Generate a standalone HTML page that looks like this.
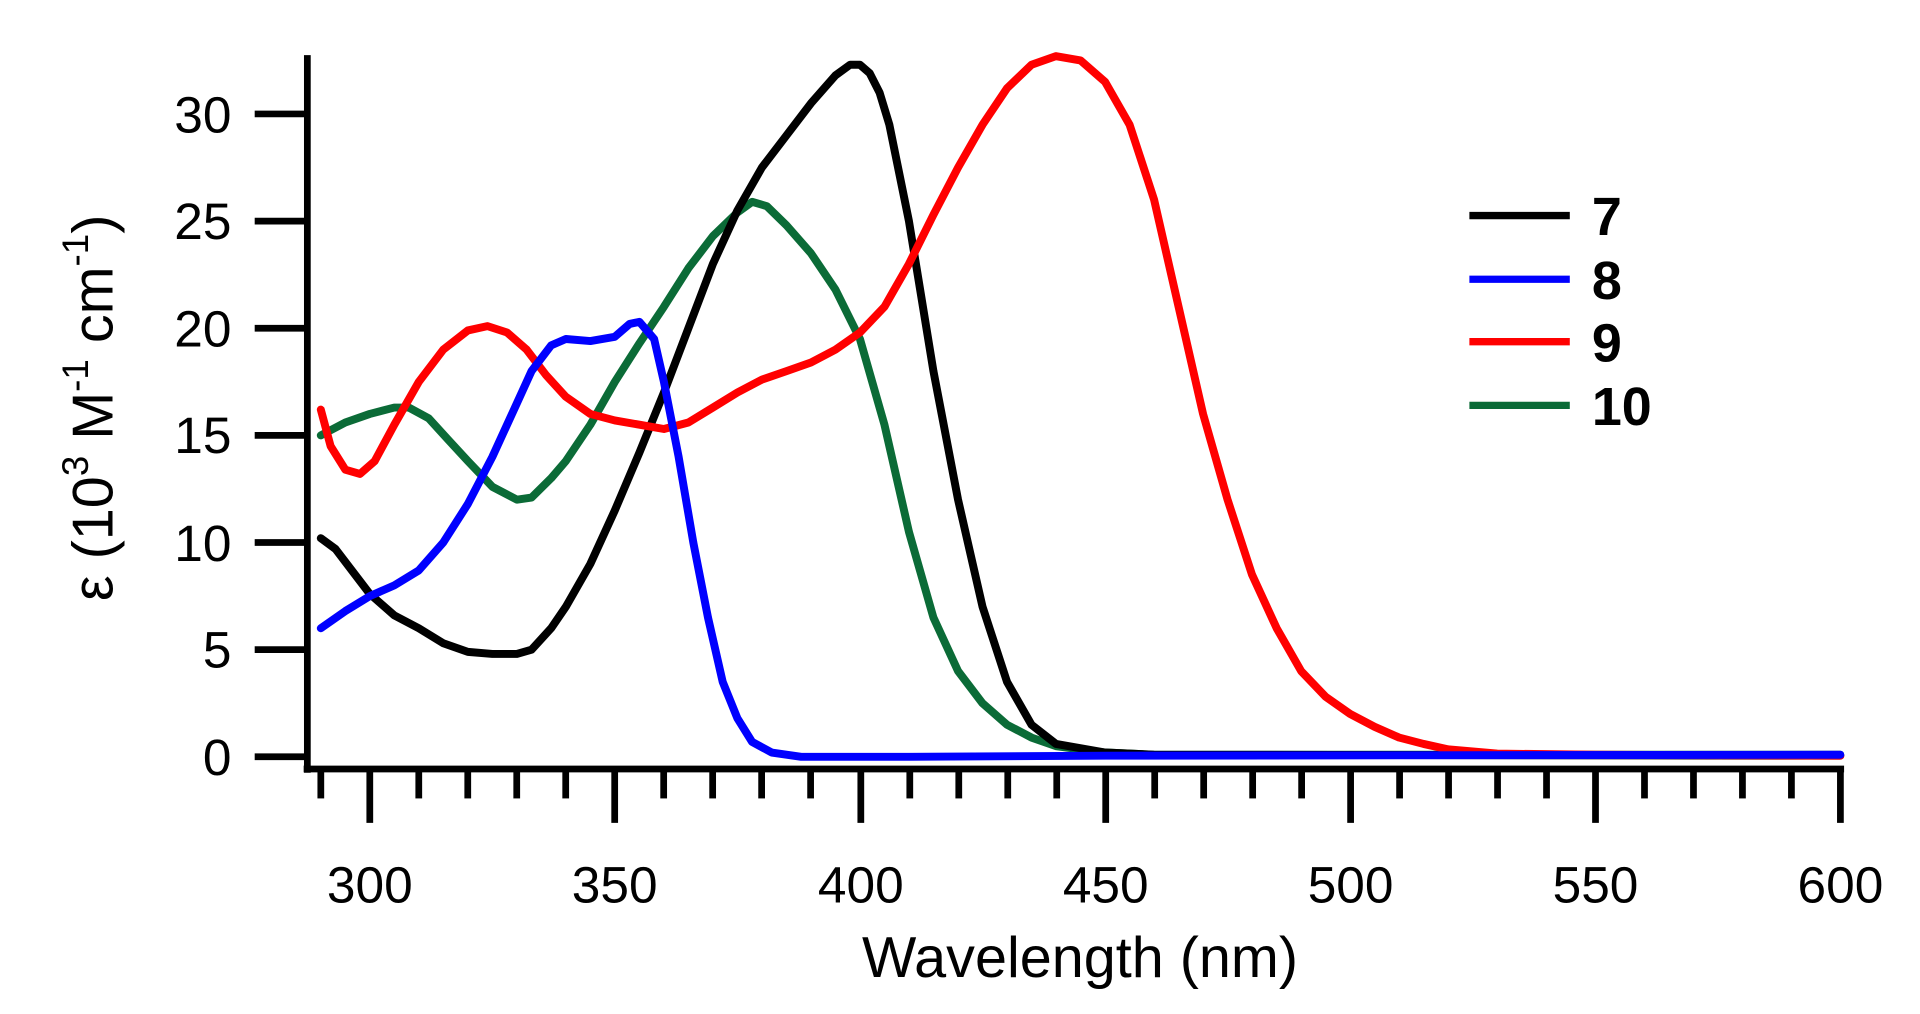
<!DOCTYPE html>
<html><head><meta charset="utf-8"><style>
html,body{margin:0;padding:0;background:#fff;}
svg{display:block;}
text{font-family:"Liberation Sans",Arial,sans-serif;fill:#000;}
</style></head><body>
<svg width="1920" height="1014" viewBox="0 0 1568 828" xmlns="http://www.w3.org/2000/svg">
<g stroke="#000" stroke-width="5.5" fill="none">
<line x1="251" y1="45" x2="251" y2="631"/>
<line x1="248" y1="628" x2="1506" y2="628"/>
<line x1="208" y1="618" x2="251" y2="618"/>
<line x1="208" y1="530.5" x2="251" y2="530.5"/>
<line x1="208" y1="443" x2="251" y2="443"/>
<line x1="208" y1="355.5" x2="251" y2="355.5"/>
<line x1="208" y1="268" x2="251" y2="268"/>
<line x1="208" y1="180.5" x2="251" y2="180.5"/>
<line x1="208" y1="93" x2="251" y2="93"/>
</g>
<g stroke="#000" stroke-width="5.5">
<line x1="262" y1="628" x2="262" y2="652"/><line x1="302" y1="628" x2="302" y2="672"/>
<line x1="342" y1="628" x2="342" y2="652"/><line x1="382" y1="628" x2="382" y2="652"/>
<line x1="422" y1="628" x2="422" y2="652"/><line x1="462" y1="628" x2="462" y2="652"/>
<line x1="502" y1="628" x2="502" y2="672"/><line x1="542" y1="628" x2="542" y2="652"/>
<line x1="582" y1="628" x2="582" y2="652"/><line x1="622" y1="628" x2="622" y2="652"/>
<line x1="662" y1="628" x2="662" y2="652"/><line x1="703" y1="628" x2="703" y2="672"/>
<line x1="743" y1="628" x2="743" y2="652"/><line x1="783" y1="628" x2="783" y2="652"/>
<line x1="823" y1="628" x2="823" y2="652"/><line x1="863" y1="628" x2="863" y2="652"/>
<line x1="903" y1="628" x2="903" y2="672"/><line x1="943" y1="628" x2="943" y2="652"/>
<line x1="983" y1="628" x2="983" y2="652"/><line x1="1023" y1="628" x2="1023" y2="652"/>
<line x1="1063" y1="628" x2="1063" y2="652"/><line x1="1103" y1="628" x2="1103" y2="672"/>
<line x1="1143" y1="628" x2="1143" y2="652"/><line x1="1183" y1="628" x2="1183" y2="652"/>
<line x1="1223" y1="628" x2="1223" y2="652"/><line x1="1263" y1="628" x2="1263" y2="652"/>
<line x1="1303" y1="628" x2="1303" y2="672"/><line x1="1343" y1="628" x2="1343" y2="652"/>
<line x1="1383" y1="628" x2="1383" y2="652"/><line x1="1423" y1="628" x2="1423" y2="652"/>
<line x1="1463" y1="628" x2="1463" y2="652"/><line x1="1503" y1="628" x2="1503" y2="672"/>
</g>
<g font-size="42" text-anchor="end">
<text x="189" y="633">0</text><text x="189" y="545">5</text><text x="189" y="458">10</text>
<text x="189" y="370">15</text><text x="189" y="283">20</text><text x="189" y="195">25</text>
<text x="189" y="108">30</text>
</g>
<g font-size="42" text-anchor="middle">
<text x="302" y="737">300</text><text x="502" y="737">350</text><text x="703" y="737">400</text>
<text x="903" y="737">450</text><text x="1103" y="737">500</text><text x="1303" y="737">550</text>
<text x="1503" y="737">600</text>
<text x="882" y="798" font-size="47">Wavelength (nm)</text>
</g>
<text transform="translate(92,333) rotate(-90)" font-size="47" text-anchor="middle">ε (10<tspan font-size="30" dy="-20">3</tspan><tspan dy="20"> M</tspan><tspan font-size="30" dy="-20">-1</tspan><tspan dy="20"> cm</tspan><tspan font-size="30" dy="-20">-1</tspan><tspan dy="20">)</tspan></text>
<g fill="none" stroke-width="6.5" stroke-linejoin="round" stroke-linecap="round">
<polyline class="c" stroke="#0b6b37" points="290,15 295,15.6 300,16 305,16.3 308,16.3 312,15.8 316,14.8 320,13.8 325,12.6 330,12 333,12.1 337,13 340,13.8 345,15.5 350,17.5 355,19.3 360,21 365,22.8 370,24.3 375,25.4 378,25.9 381,25.7 385,24.8 390,23.5 395,21.8 400,19.5 405,15.5 410,10.5 415,6.5 420,4 425,2.5 430,1.5 435,0.9 440,0.5 450,0.2 460,0.1 600,0.1"/>
<polyline class="c" stroke="#000" points="290,10.2 293,9.7 297,8.5 300,7.6 305,6.6 310,6 315,5.3 320,4.9 325,4.8 330,4.8 333,5 337,6 340,7 345,9 350,11.5 355,14.2 360,17 365,20 370,23 375,25.5 380,27.5 385,29 390,30.5 395,31.8 398,32.3 400,32.3 402,31.9 404,31 406,29.5 410,25 415,18 420,12 425,7 430,3.5 435,1.5 440,0.6 450,0.2 460,0.1 600,0.05"/>
<polyline class="c" stroke="#ff0000" points="290,16.2 292,14.5 295,13.4 298,13.2 301,13.8 305,15.5 310,17.5 315,19 320,19.9 324,20.1 328,19.8 332,19 336,17.8 340,16.8 345,16 350,15.7 355,15.5 360,15.3 365,15.6 370,16.3 375,17 380,17.6 385,18 390,18.4 395,19 400,19.8 405,21 410,23 415,25.3 420,27.5 425,29.5 430,31.2 435,32.3 440,32.7 445,32.5 450,31.5 455,29.5 460,26 465,21 470,16 475,12 480,8.5 485,6 490,4 495,2.8 500,2 505,1.4 510,0.9 515,0.6 520,0.35 530,0.15 550,0.1 600,0.05"/>
<polyline class="c" stroke="#0000ff" points="290,6 295,6.8 300,7.5 305,8 310,8.7 315,10 320,11.8 325,14 330,16.5 333,18 337,19.2 340,19.5 345,19.4 350,19.6 353,20.2 355,20.3 358,19.5 360,17.5 363,14 366,10 369,6.5 372,3.5 375,1.8 378,0.7 382,0.2 388,0 410,0 450,0.05 600,0.1"/>
</g>
<g stroke-width="6">
<line x1="1200" y1="176" x2="1282" y2="176" stroke="#000"/>
<line x1="1200" y1="228" x2="1282" y2="228" stroke="#0000ff"/>
<line x1="1200" y1="279" x2="1282" y2="279" stroke="#ff0000"/>
<line x1="1200" y1="331" x2="1282" y2="331" stroke="#0b6b37"/>
</g>
<g font-size="44" font-weight="bold">
<text x="1300" y="192">7</text><text x="1300" y="244">8</text>
<text x="1300" y="295">9</text><text x="1300" y="347">10</text>
</g>
</svg>
<script>
document.querySelectorAll('polyline.c').forEach(function(p){
  var pts=p.getAttribute('points').trim().split(/\s+/).map(function(s){
    var a=s.split(',');var x=302+(parseFloat(a[0])-300)*4.003;var y=618-parseFloat(a[1])*17.5;
    return x.toFixed(1)+','+y.toFixed(1);});
  p.setAttribute('points',pts.join(' '));
});
</script>
</body></html>
